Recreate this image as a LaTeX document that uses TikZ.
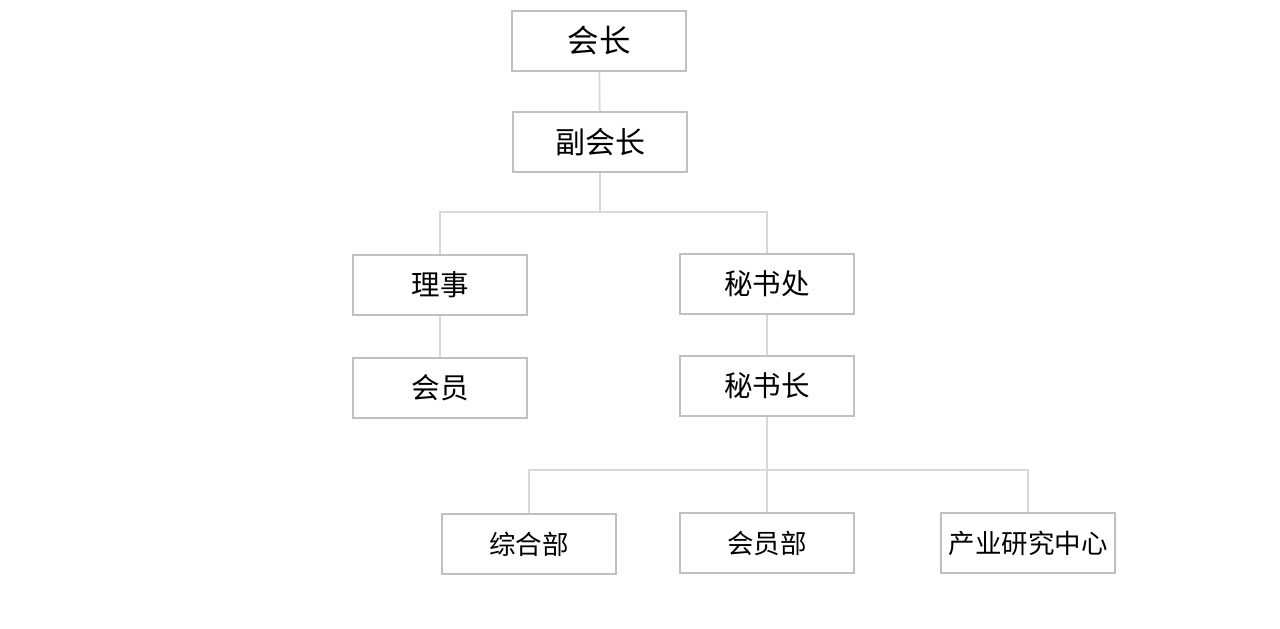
\documentclass[tikz,border=0pt]{standalone}
\usepackage{fontspec}
\setmainfont{Noto Sans CJK SC}
\usetikzlibrary{positioning}
\definecolor{boxgray}{HTML}{C0C0C0}
\definecolor{linegray}{HTML}{D8D8D8}
\tikzset{
  post/.style={draw=boxgray,line width=1.8pt,minimum width=174pt,minimum height=60pt,inner sep=0pt,font=\fontsize{28.5}{32}\selectfont},
  link/.style={draw=linegray,line width=1.8pt}
}
\begin{document}
\begin{tikzpicture}[x=1pt,y=-1pt]
\useasboundingbox (0,0) rectangle (1280,629);
% top of the tree
\node[post,font=\fontsize{31.5}{36}\selectfont] (hz) at (599,41) {会长};
\node[post,font=\fontsize{30}{34}\selectfont] (fhz) at (600,142) {副会长};
% second level
\node[post] (ls) at (440,285) {理事};
\node[post] (hy) at (440,388) {会员};
\node[post] (msc) at (767,284) {秘书处};
\node[post] (msz) at (767,386) {秘书长};
% departments
\node[post,font=\fontsize{26.5}{30}\selectfont] (zhb) at (529,544) {综合部};
\node[post,font=\fontsize{26.5}{30}\selectfont] (hyb) at (767,543) {会员部};
\node[post,font=\fontsize{26.5}{30}\selectfont] (cyzx) at (1028,543) {产业研究中心};

\coordinate (bar1) at (600,212);
\coordinate (bar2) at (767,470);

\draw[link] (hz) -- (fhz);
\draw[link] (fhz) -- (bar1);
\draw[link] (ls.north) |- (bar1) -| (msc.north);
\draw[link] (ls) -- (hy);
\draw[link] (msc) -- (msz);
\draw[link] (msz) -- (bar2);
\draw[link] (zhb.north) |- (bar2) -| (cyzx.north);
\draw[link] (bar2) -- (hyb);
\end{tikzpicture}
\end{document}
